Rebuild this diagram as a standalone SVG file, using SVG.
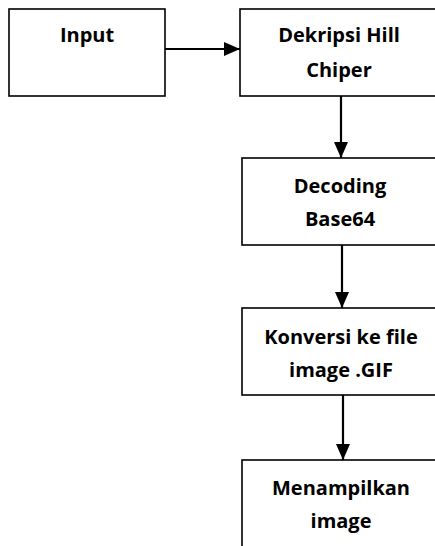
<svg xmlns="http://www.w3.org/2000/svg" width="435" height="546" viewBox="0 0 435 546">
<style>
.box{fill:#fff;stroke:#000;stroke-width:1.6}
.t{font-family:"Open Sans","Liberation Sans",sans-serif;font-weight:bold;font-size:20px;fill:#000;text-anchor:middle}
.c{stroke:#000;stroke-width:2.2;fill:none}
</style>
<defs>
<marker id="ah" markerUnits="userSpaceOnUse" markerWidth="16" markerHeight="14" refX="16" refY="7" orient="auto">
<path d="M0,0 L16,7 L0,14 Z" fill="#000"/>
</marker>
</defs>
<rect width="435" height="546" fill="#fff"/>
<g id="input">
<rect class="box" x="9" y="9" width="156" height="87"/>
<text class="t" x="87" y="42">Input</text>
</g>
<g id="dekripsi">
<rect class="box" x="240" y="9" width="200" height="87"/>
<text class="t" x="339" y="42">Dekripsi Hill</text>
<text class="t" x="339" y="77">Chiper</text>
</g>
<g id="decoding">
<rect class="box" x="242" y="158" width="200" height="87"/>
<text class="t" x="340" y="193">Decoding</text>
<text class="t" x="340" y="226">Base64</text>
</g>
<g id="konversi">
<rect class="box" x="242" y="308" width="200" height="87"/>
<text class="t" x="341" y="344">Konversi ke file</text>
<text class="t" x="341" y="377">image .GIF</text>
</g>
<g id="menampilkan">
<rect class="box" x="242" y="460" width="200" height="100"/>
<text class="t" x="341" y="495">Menampilkan</text>
<text class="t" x="341" y="528">image</text>
</g>
<g id="connectors">
<line class="c" x1="165" y1="49" x2="240" y2="49" marker-end="url(#ah)"/>
<line class="c" x1="341" y1="96" x2="341" y2="158" marker-end="url(#ah)"/>
<line class="c" x1="342" y1="245" x2="342" y2="308" marker-end="url(#ah)"/>
<line class="c" x1="343" y1="395" x2="343" y2="460" marker-end="url(#ah)"/>
</g>
</svg>
